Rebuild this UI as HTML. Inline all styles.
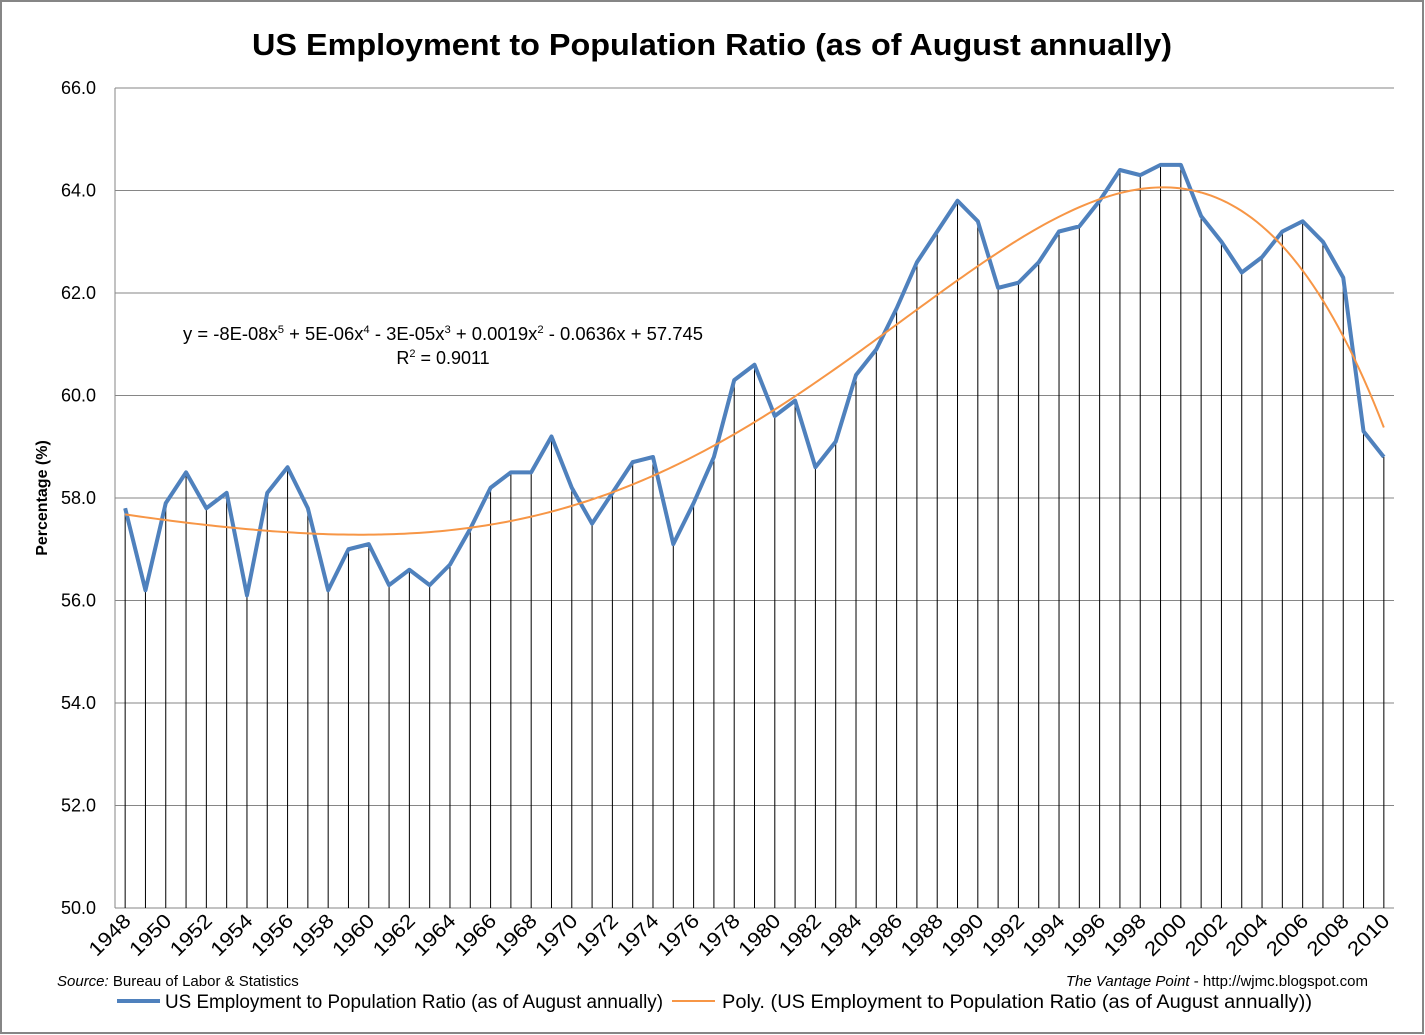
<!DOCTYPE html>
<html><head><meta charset="utf-8"><style>
body{margin:0;background:#fff}
svg{display:block;font-family:"Liberation Sans",sans-serif}
</style></head><body>
<svg id="chart" width="1425" height="1035" viewBox="0 0 1425 1035">
<rect x="1" y="1" width="1422" height="1032" fill="#fff" stroke="#868686" stroke-width="2"/>
<text x="712" y="55" text-anchor="middle" font-size="31" font-weight="bold" textLength="920" lengthAdjust="spacingAndGlyphs">US Employment to Population Ratio (as of August annually)</text>
<g id="grid"></g>
<g id="yticks"></g>
<g id="drops"></g>
<g id="xticks"></g>
<text transform="translate(47,498) rotate(-90)" text-anchor="middle" font-size="16" font-weight="bold">Percentage (%)</text>
<text x="443" y="340" text-anchor="middle" font-size="18" textLength="520" lengthAdjust="spacingAndGlyphs">y = -8E-08x<tspan dy="-7" font-size="11">5</tspan><tspan dy="7"> + 5E-06x</tspan><tspan dy="-7" font-size="11">4</tspan><tspan dy="7"> - 3E-05x</tspan><tspan dy="-7" font-size="11">3</tspan><tspan dy="7"> + 0.0019x</tspan><tspan dy="-7" font-size="11">2</tspan><tspan dy="7"> - 0.0636x + 57.745</tspan></text>
<text x="443" y="364" text-anchor="middle" font-size="18">R<tspan dy="-7" font-size="11">2</tspan><tspan dy="7"> = 0.9011</tspan></text>
<text x="57" y="986" font-size="15"><tspan font-style="italic">Source:</tspan> Bureau of Labor &amp; Statistics</text>
<text x="1368" y="986" text-anchor="end" font-size="15"><tspan font-style="italic">The Vantage Point</tspan> - http://wjmc.blogspot.com</text>
<line x1="117" y1="1001" x2="160" y2="1001" stroke="#4f81bd" stroke-width="4"/>
<text x="165" y="1008" font-size="19" textLength="498" lengthAdjust="spacingAndGlyphs">US Employment to Population Ratio (as of August annually)</text>
<line x1="672" y1="1001" x2="715" y2="1001" stroke="#f79646" stroke-width="2"/>
<text x="722" y="1008" font-size="19" textLength="590" lengthAdjust="spacingAndGlyphs">Poly. (US Employment to Population Ratio (as of August annually))</text>
</svg>
<script>
const years=[];for(let y=1948;y<=2010;y++)years.push(y);
const values=[57.8,56.2,57.9,58.5,57.8,58.1,56.1,58.1,58.6,57.8,56.2,57.0,57.1,56.3,56.6,56.3,56.7,57.4,58.2,58.5,58.5,59.2,58.2,57.5,58.1,58.7,58.8,57.1,57.9,58.8,60.3,60.6,59.6,59.9,58.6,59.1,60.4,60.9,61.7,62.6,63.2,63.8,63.4,62.1,62.2,62.6,63.2,63.3,63.8,64.4,64.3,64.5,64.5,63.5,63.0,62.4,62.7,63.2,63.4,63.0,62.3,59.3,58.8];
const yTicks=[50,52,54,56,58,60,62,64,66];
const NS="http://www.w3.org/2000/svg";
const L=115,R=1394,T=88,B=908,ymin=50,ymax=66;
const step=(R-L)/years.length;
function xs(i){return L+step*(i+0.5);}
function ys(v){return B-(v-ymin)/(ymax-ymin)*(B-T);}
function mk(tag,attrs,parent){const e=document.createElementNS(NS,tag);for(const k in attrs)e.setAttribute(k,attrs[k]);document.getElementById(parent).appendChild(e);return e;}
yTicks.forEach(v=>{
 const g=mk('line',{x1:L,x2:R,y1:ys(v),y2:ys(v),stroke:'#868686','stroke-width':1},'grid');
 
 
 const t=mk('text',{x:96,y:ys(v)+6,'text-anchor':'end','font-size':18},'yticks');
 t.textContent=v.toFixed(1);
 
 
});
mk('line',{x1:L,x2:L,y1:T,y2:B,stroke:'#868686'},'grid');
values.forEach((v,i)=>{
 const d=mk('line',{x1:xs(i),x2:xs(i),y1:ys(v),y2:B,stroke:'#000','stroke-width':1},'drops');
 
 
});
years.forEach((yr,i)=>{
 if(i%2)return;
 const x=xs(i)+7,y=922;
 const t=mk('text',{x:x,y:y,'text-anchor':'end','font-size':20,textLength:50,lengthAdjust:'spacingAndGlyphs',transform:`rotate(-45 ${x} ${y})`},'xticks');
 t.textContent=yr;
 
 
});
const pl=mk('polyline',{points:values.map((v,i)=>xs(i)+','+ys(v)).join(' '),fill:'none',stroke:'#4f81bd','stroke-width':4,'stroke-linejoin':'round'},'chart');


const n=values.length,deg=5;
const tt=values.map((_,i)=>((i+1)-32)/31);
const M=[],rhs=[];
for(let r=0;r<=deg;r++){M.push([]);let s=0;for(let k=0;k<n;k++)s+=Math.pow(tt[k],r)*values[k];rhs.push(s);
 for(let c=0;c<=deg;c++){let q=0;for(let k=0;k<n;k++)q+=Math.pow(tt[k],r+c);M[r].push(q);}}
for(let i=0;i<=deg;i++){let p=i;for(let j=i+1;j<=deg;j++)if(Math.abs(M[j][i])>Math.abs(M[p][i]))p=j;
 [M[i],M[p]]=[M[p],M[i]];[rhs[i],rhs[p]]=[rhs[p],rhs[i]];
 for(let j=0;j<=deg;j++)if(j!==i){const f=M[j][i]/M[i][i];for(let c=i;c<=deg;c++)M[j][c]-=f*M[i][c];rhs[j]-=f*rhs[i];}}
const coef=rhs.map((b,i)=>b/M[i][i]);
const pts=[];
for(let s=0;s<=(n-1)*4;s++){const xi=s/4;const t=((xi+1)-32)/31;let v=0;for(let c=0;c<=deg;c++)v+=coef[c]*Math.pow(t,c);pts.push(xs(xi)+','+ys(v));}
const tr=mk('polyline',{points:pts.join(' '),fill:'none',stroke:'#f79646','stroke-width':2},'chart');


</script>
</body></html>
